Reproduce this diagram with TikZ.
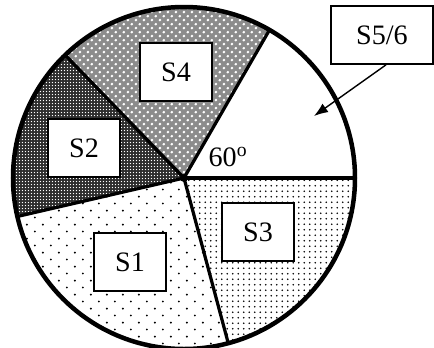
\documentclass[tikz,border=0pt]{standalone}
\usepackage{fontspec}
\setmainfont{Liberation Serif}
\usetikzlibrary{arrows.meta,patterns}

% dot patterns for the slices
\pgfdeclarepatternformonly{sparsedots}{\pgfqpoint{0pt}{0pt}}{\pgfqpoint{11.3pt}{9.9pt}}{\pgfqpoint{11.3pt}{9.9pt}}{
  \pgfpathcircle{\pgfqpoint{2.8pt}{2.5pt}}{0.75pt}
  \pgfpathcircle{\pgfqpoint{8.5pt}{7.4pt}}{0.75pt}
  \pgfusepath{fill}
}
\pgfdeclarepatternformonly{densedots}{\pgfqpoint{0pt}{0pt}}{\pgfqpoint{7.8pt}{7.8pt}}{\pgfqpoint{7.8pt}{7.8pt}}{
  \pgfpathcircle{\pgfqpoint{1.95pt}{1.95pt}}{0.65pt}
  \pgfpathcircle{\pgfqpoint{5.85pt}{5.85pt}}{0.65pt}
  \pgfpathcircle{\pgfqpoint{5.85pt}{1.95pt}}{0.65pt}
  \pgfpathcircle{\pgfqpoint{1.95pt}{5.85pt}}{0.65pt}
  \pgfusepath{fill}
}
\pgfdeclarepatternformonly{checkdots}{\pgfqpoint{0pt}{0pt}}{\pgfqpoint{5.6pt}{5.6pt}}{\pgfqpoint{5.6pt}{5.6pt}}{
  \pgfpathcircle{\pgfqpoint{1.4pt}{1.4pt}}{1pt}
  \pgfpathcircle{\pgfqpoint{4.2pt}{4.2pt}}{1pt}
  \pgfusepath{fill}
}
\pgfdeclarepatternformonly{griddots}{\pgfqpoint{0pt}{0pt}}{\pgfqpoint{2.4pt}{2.4pt}}{\pgfqpoint{2.4pt}{2.4pt}}{
  \pgfpathcircle{\pgfqpoint{1.2pt}{1.2pt}}{0.55pt}
  \pgfusepath{fill}
}

\tikzset{
    slice/.style={line width=2.3pt, line cap=round},
    rim/.style={line width=3.2pt},
    box/.style={draw, line width=1.2pt, fill=white, minimum width=1.8cm, minimum height=1.45cm, inner sep=0pt, font=\fontsize{20}{24}\selectfont}
}

\begin{document}
\begin{tikzpicture}
    \useasboundingbox (-4.6,-4.225) rectangle (6.25,4.45);
    \def\R{4.275}
    \coordinate (o) at (0,0);

    % --- slices ---
    % S4
    \fill[black!45] (o) -- (60:\R) arc (60:134:\R) -- cycle;
    \fill[pattern=checkdots, pattern color=white] (o) -- (60:\R) arc (60:134:\R) -- cycle;
    % S2
    \fill[black!82] (o) -- (134:\R) arc (134:193:\R) -- cycle;
    \fill[pattern=griddots, pattern color=white] (o) -- (134:\R) arc (134:193:\R) -- cycle;
    % S1
    \fill[pattern=sparsedots, pattern color=black] (o) -- (193:\R) arc (193:285:\R) -- cycle;
    % S3
    \fill[pattern=densedots, pattern color=black] (o) -- (285:\R) arc (285:360:\R) -- cycle;

    % --- boundaries ---
    \foreach \a in {0,60,134,193,285}
        \draw[slice] (o) -- (\a:\R);
    \draw[rim] (o) circle (\R);
    \fill (o) circle (0.1);

    % --- labels ---
    \node[box] (s4) at (-0.2,2.65) {S4};
    \node[box] (s2) at (-2.5,0.75) {S2};
    \node[box] (s1) at (-1.35,-2.1) {S1};
    \node[box] (s3) at (1.85,-1.35) {S3};
    \node[box, minimum width=2.55cm] (s56) at (4.95,3.575) {S5/6};
    \node[font=\fontsize{20}{24}\selectfont] (ang) at (1.1,0.525) {60\textsuperscript{o}};

    % --- arrow ---
    \coordinate (tip) at (3.25,1.55);
    \draw[-{Latex[length=3.5mm,width=2.6mm]}, line width=1pt] ([xshift=0.1cm]s56.south) -- (tip);
\end{tikzpicture}
\end{document}
